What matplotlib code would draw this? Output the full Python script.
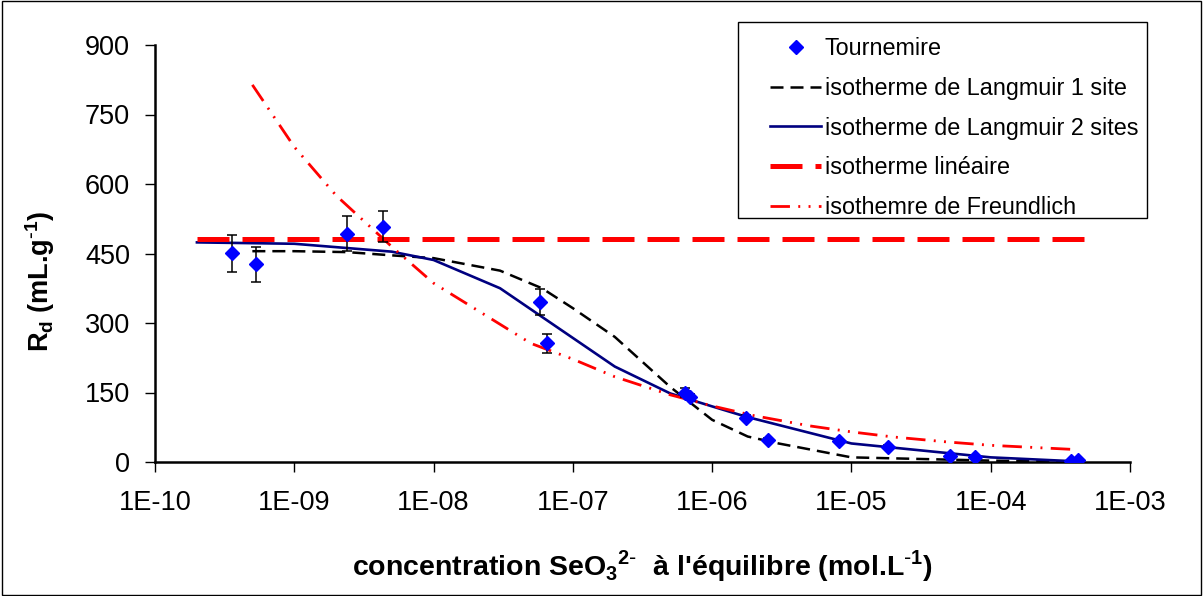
import math
import matplotlib
matplotlib.use('Agg')
import matplotlib.pyplot as plt
from matplotlib.patches import Rectangle
from matplotlib.ticker import FixedLocator, FuncFormatter, NullLocator

plt.rcParams['font.family'] = ['Liberation Sans', 'DejaVu Sans']

# experimental points (Tournemire)
conc_exp = [3.6e-10, 5.3e-10, 2.4e-9, 4.3e-9, 5.8e-8, 6.5e-8, 6.4e-7, 6.9e-7,
            1.74e-6, 2.52e-6, 8.1e-6, 1.83e-5, 5.1e-5, 7.7e-5, 3.8e-4, 4.2e-4]
rd_exp = [451, 427, 493, 508, 346, 256, 150, 141, 96, 48, 46, 33, 13, 10, 3, 4]
rd_err = [40, 38, 37, 34, 28, 21, 10, 6, 6, 4, 4, 4, 3, 3, 2, 2]

# Langmuir 1 site
conc_l1 = [5e-10, 1e-9, 2.4e-9, 5e-9, 1e-8, 3e-8, 6e-8, 1e-7, 2e-7, 5e-7, 1e-6,
           1.8e-6, 3e-6, 1e-5, 1e-4, 4e-4]
rd_l1 = [455, 455, 453, 446, 440, 413, 375, 332, 270, 162, 91, 55, 40, 10, 3, 0]

# Langmuir 2 sites
conc_l2 = [2e-10, 1e-9, 5e-9, 1e-8, 3e-8, 2e-7, 5e-7, 1e-6, 1.74e-6, 1e-5, 1e-4, 4.4e-4]
rd_l2 = [474, 471, 454, 436, 375, 206, 148, 120, 98, 40, 10, 1]

# linear isotherm
conc_lin = [2e-10, 5e-4]
rd_lin = [481, 481]

# Freundlich
conc_fr = [5e-10, 1e-9, 2e-9, 5e-9, 1e-8, 5e-8, 1e-7, 2e-7, 5e-7, 1e-6, 2e-6,
           5e-6, 1e-5, 2e-5, 5e-5, 1e-4, 4e-4]
rd_fr = [814, 680, 575, 465, 386, 256, 222, 184, 145, 121, 100, 78, 65, 54, 43, 36, 27]

xticks = [1e-10, 1e-9, 1e-8, 1e-7, 1e-6, 1e-5, 1e-4, 1e-3]
yticks = [0, 150, 300, 450, 600, 750, 900]

W, H = 1203, 596
fig = plt.figure(figsize=(W / 100, H / 100), dpi=100)
ax = fig.add_axes([155 / W, 1 - 462 / H, (1130 - 155) / W, (462 - 45) / H])

ax.plot(conc_l1, rd_l1, color='black', lw=1.8, dashes=[5.2, 2.8],
        label='isotherme de Langmuir 1 site', zorder=3)
ax.plot(conc_l2, rd_l2, color='#000080', lw=1.9,
        label='isotherme de Langmuir 2 sites', zorder=3)
ax.plot(conc_lin, rd_lin, color='#FF0000', lw=3.6, dashes=[6.4, 2.6],
        label='isotherme linéaire', zorder=3)
ax.plot(conc_fr, rd_fr, color='#FF0000', lw=2.0, dashes=[7, 3, 0.7, 3, 0.7, 3],
        label='isothemre de Freundlich', zorder=3)
ax.errorbar(conc_exp, rd_exp, yerr=rd_err, fmt='none', ecolor='black',
            elinewidth=1.1, capsize=3.5, capthick=1.1, zorder=4)
ax.plot(conc_exp, rd_exp, linestyle='none', marker='D', ms=7, color='#0000FF',
        label='Tournemire', zorder=5)

ax.set_xscale('log')
ax.set_xlim(1e-10, 1e-3)
ax.set_ylim(0, 900)
ax.xaxis.set_major_locator(FixedLocator(xticks))
ax.xaxis.set_minor_locator(NullLocator())
ax.xaxis.set_major_formatter(FuncFormatter(lambda v, p: '1E-%02d' % round(-math.log10(v))))
ax.set_yticks(yticks)

for s in ['top', 'right']:
    ax.spines[s].set_visible(False)
for s in ['left', 'bottom']:
    ax.spines[s].set_linewidth(1.8)
ax.tick_params(axis='both', direction='out', length=7, width=1.0, labelsize=19.5)
ax.tick_params(axis='x', pad=13)
ax.tick_params(axis='y', pad=11)

ax.set_xlabel(r"concentration SeO$_\mathregular{3}$$^\mathregular{2\text{-}}$  à l'équilibre (mol.L$^\mathregular{\text{-}1}$)",
              fontsize=20.5, fontweight='bold')
ax.xaxis.set_label_coords(0.5, (462 - 548) / 417)
ax.set_ylabel(r'R$_\mathregular{d}$ (mL.g$^\mathregular{\text{-}1}$)', fontsize=19.5, fontweight='bold')
ax.yaxis.set_label_coords((57 - 155) / 975, (462 - 281) / 417)

handles, labels = ax.get_legend_handles_labels()
order = [4, 0, 1, 2, 3]
leg = ax.legend([handles[i] for i in order], [labels[i] for i in order],
                loc='upper left', bbox_to_anchor=(770 / W, 1 - 37 / H),
                bbox_transform=fig.transFigure, fontsize=16.8, frameon=False,
                borderaxespad=0, borderpad=0, handlelength=2.2, handletextpad=0.15,
                labelspacing=0.72)

# legend frame and outer figure frame
fig.patches.append(Rectangle((738 / W, 1 - 218 / H), (1147 - 738) / W, (218 - 22) / H,
                             transform=fig.transFigure, fill=False, edgecolor='black', lw=1.0))
fig.patches.append(Rectangle((0.002, 0.002), 0.996, 0.996, transform=fig.transFigure,
                             fill=False, edgecolor='black', lw=1.0))

fig.savefig('out.png', dpi=100)
